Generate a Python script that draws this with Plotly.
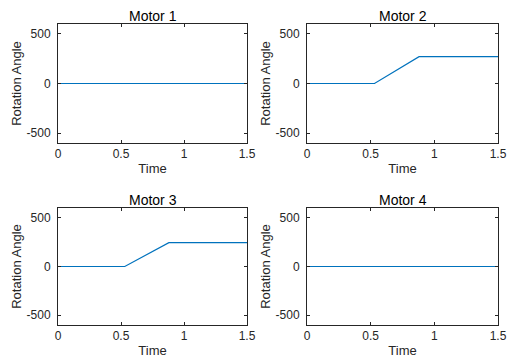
import plotly.graph_objects as go
from plotly.subplots import make_subplots

time = [0, 0.53, 0.88, 1.5]
motor1 = [0, 0, 0, 0]
motor2 = [0, 0, 270, 270]
motor3 = [0, 0, 245, 245]
motor4 = [0, 0, 0, 0]
titles = ["Motor 1", "Motor 2", "Motor 3", "Motor 4"]
x_ticks = [0, 0.5, 1, 1.5]
x_tick_labels = ["0", "0.5", "1", "1.5"]
y_ticks = [-500, 0, 500]
y_tick_labels = ["-500", "0", "500"]

fig = make_subplots(rows=2, cols=2)
series = [motor1, motor2, motor3, motor4]
pos = [(1, 1), (1, 2), (2, 1), (2, 2)]
for s, (r, c) in zip(series, pos):
    fig.add_trace(go.Scatter(x=time, y=s, mode="lines",
                             line=dict(color="#0072BD", width=1.2),
                             showlegend=False), row=r, col=c)

# page body has an 8px margin; figure is sized to fill the rest of the window
OFF = 8
W, H = 518 - OFF, 361 - OFF


def px_x(a, b):
    return ((a - OFF) / W, (b - OFF) / W)


def px_y(top, bottom):
    return ((H - (bottom - OFF)) / H, (H - (top - OFF)) / H)


xdom = [px_x(58, 247), px_x(307, 498)]
ydom = [px_y(24, 143), px_y(208, 325)]

font_fam = "Liberation Sans, Arial, sans-serif"
dark = "#262626"
layout = {}
for i, (r, c) in enumerate(pos):
    n = "" if i == 0 else str(i + 1)
    layout["xaxis" + n] = dict(
        domain=xdom[c - 1], range=[0, 1.5], tickvals=x_ticks, ticktext=x_tick_labels,
        ticks="inside", ticklen=3, tickcolor=dark, mirror="allticks", automargin=False,
        showline=True, linecolor=dark, linewidth=1, showgrid=False, zeroline=False,
        ticklabelstandoff=0,
        tickfont=dict(size=12, color=dark, family=font_fam),
        title=dict(text="Time", font=dict(size=13, color=dark, family=font_fam), standoff=3),
        anchor="y" + n)
    layout["yaxis" + n] = dict(
        domain=ydom[r - 1], range=[-600, 600], tickvals=y_ticks, ticktext=y_tick_labels,
        ticks="inside", ticklen=3, tickcolor=dark, mirror="allticks", automargin=False,
        showline=True, linecolor=dark, linewidth=1, showgrid=False, zeroline=False,
        ticklabelstandoff=4,
        tickfont=dict(size=12, color=dark, family=font_fam),
        title=dict(text="Rotation Angle", font=dict(size=13, color=dark, family=font_fam), standoff=2),
        anchor="x" + n)

annotations = []
for i, (r, c) in enumerate(pos):
    x0, x1 = xdom[c - 1]
    y1 = ydom[r - 1][1]
    annotations.append(dict(text=titles[i], x=(x0 + x1) / 2, y=y1, xref="paper", yref="paper",
                            xanchor="center", yanchor="bottom", yshift=-2, showarrow=False,
                            font=dict(size=14, color="#000000", family=font_fam)))

fig.update_layout(**layout)
fig.update_layout(width=W, height=H, margin=dict(l=0, r=0, t=0, b=0),
                  paper_bgcolor="white", plot_bgcolor="white", annotations=annotations)

fig.write_html("out.html")
